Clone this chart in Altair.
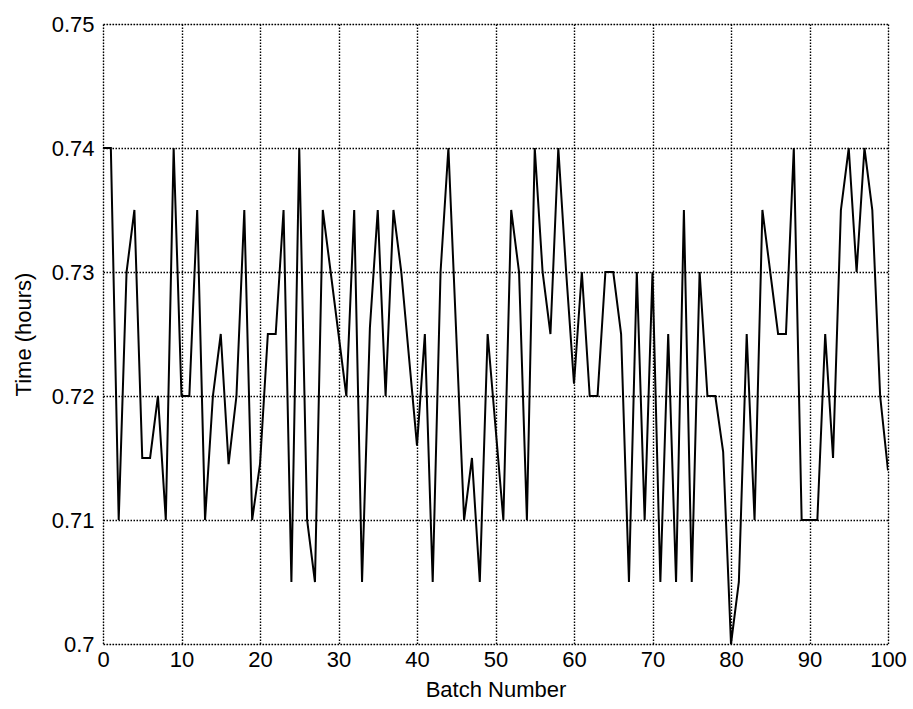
import altair as alt
import pandas as pd

batches = list(range(0, 101))
times = [
    0.74, 0.74, 0.71, 0.73, 0.735, 0.715, 0.715, 0.72, 0.71, 0.74,
    0.72, 0.72, 0.735, 0.71, 0.72, 0.725, 0.7145, 0.72, 0.735, 0.71,
    0.7145, 0.725, 0.725, 0.735, 0.705, 0.74, 0.71, 0.705, 0.735, 0.73,
    0.725, 0.72, 0.735, 0.705, 0.7255, 0.735, 0.72, 0.735, 0.73, 0.723,
    0.716, 0.725, 0.705, 0.73, 0.74, 0.725, 0.71, 0.715, 0.705, 0.725,
    0.7175, 0.71, 0.735, 0.73, 0.71, 0.74, 0.73, 0.725, 0.74, 0.73,
    0.721, 0.73, 0.72, 0.72, 0.73, 0.73, 0.725, 0.705, 0.73, 0.71,
    0.73, 0.705, 0.725, 0.705, 0.735, 0.705, 0.73, 0.72, 0.72, 0.7155,
    0.70, 0.705, 0.725, 0.71, 0.735, 0.73, 0.725, 0.725, 0.74, 0.71,
    0.71, 0.71, 0.725, 0.715, 0.735, 0.74, 0.73, 0.74, 0.735, 0.72,
    0.714,
]
x_ticks = [0, 10, 20, 30, 40, 50, 60, 70, 80, 90, 100]
y_ticks = [0.70, 0.71, 0.72, 0.73, 0.74, 0.75]

df = pd.DataFrame({"batch": batches, "time": times})

FONT = "Liberation Sans"

chart = (
    alt.Chart(df)
    .mark_line(color="black", strokeWidth=2, clip=True)
    .encode(
        x=alt.X(
            "batch:Q",
            scale=alt.Scale(domain=[0, 100], nice=False, zero=False),
            axis=alt.Axis(
                values=x_ticks,
                title="Batch Number",
                format="d",
                grid=True,
                gridColor="black",
                gridDash=[1.5, 1.5],
                gridWidth=1.4,
                gridOpacity=1,
                domain=False,
                ticks=False,
                tickSize=0,
                labelPadding=5,
                labelFontSize=22,
                labelFont=FONT,
                labelColor="black",
                titleFontSize=22,
                titleFont=FONT,
                titleFontWeight="normal",
                titleColor="black",
                titlePadding=9,
                labelFlush=False,
            ),
        ),
        y=alt.Y(
            "time:Q",
            scale=alt.Scale(domain=[0.70, 0.75], nice=False, zero=False),
            axis=alt.Axis(
                values=y_ticks,
                title="Time (hours)",
                format=".2~f",
                grid=True,
                gridColor="black",
                gridDash=[1.5, 1.5],
                gridWidth=1.4,
                gridOpacity=1,
                domain=False,
                ticks=False,
                tickSize=0,
                labelPadding=9,
                labelFontSize=22,
                labelFont=FONT,
                labelColor="black",
                titleFontSize=22,
                titleFont=FONT,
                titleFontWeight="normal",
                titleColor="black",
                titlePadding=16,
                labelFlush=False,
            ),
        ),
    )
    .properties(
        width=785,
        height=620,
        autosize=alt.AutoSizeParams(type="none"),
        padding={"left": 103, "top": 24, "right": 25, "bottom": 65},
    )
    .configure_view(stroke="black", strokeWidth=1.5)
    .configure(background="white")
)

chart.save("out.html", embed_options={"renderer": "svg", "actions": False})
